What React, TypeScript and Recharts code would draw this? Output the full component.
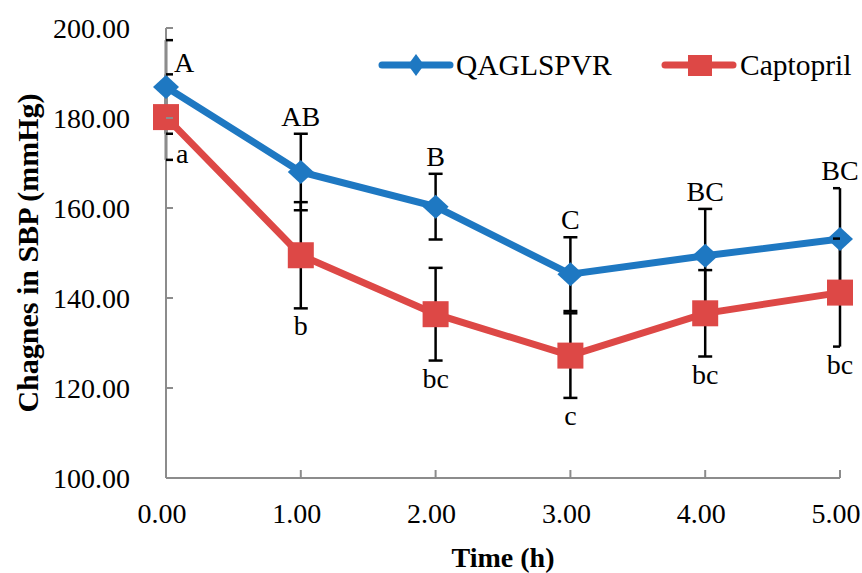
import React from 'react';
import { LineChart, Line, XAxis, YAxis, ErrorBar, LabelList, Customized } from 'recharts';

const times = [0, 1, 2, 3, 4, 5];
const qaglspvr = [186.9, 168.0, 160.3, 145.3, 149.4, 153.1];
const qaglspvrSD = [10.4, 8.5, 7.3, 8.2, 10.4, 11.3];
const captopril = [180.2, 149.5, 136.4, 127.2, 136.6, 141.2];
const captoprilSD = [9.5, 11.8, 10.3, 9.4, 9.6, 12.0];
const qaglspvrLetters = ['A', 'AB', 'B', 'C', 'BC', 'BC'];
const captoprilLetters = ['a', 'b', 'bc', 'c', 'bc', 'bc'];
const yTicks = [100, 120, 140, 160, 180, 200];
const xTicks = [0, 1, 2, 3, 4, 5];

const BLUE = '#1E78C2';
const RED = '#DD4846';
const AXIS = '#8C8C8C';
const FONT = "'Liberation Serif', 'Times New Roman', serif";

const data = times.map((t, i) => ({
  time: t,
  q: qaglspvr[i],
  qErr: qaglspvrSD[i],
  qTop: qaglspvr[i] + qaglspvrSD[i],
  qBottom: qaglspvr[i] - qaglspvrSD[i],
  qLab: qaglspvrLetters[i],
  c: captopril[i],
  cErr: captoprilSD[i],
  cTop: captopril[i] + captoprilSD[i],
  cBottom: captopril[i] - captoprilSD[i],
  cLab: captoprilLetters[i],
}));

const LAST = times.length - 1;

const Diamond = (props: any) => {
  const { cx, cy } = props;
  if (cx == null || cy == null) return null;
  return <path d={`M${cx},${cy - 12} L${cx + 13},${cy} L${cx},${cy + 12} L${cx - 13},${cy} Z`} fill={BLUE} />;
};

const Square = (props: any) => {
  const { cx, cy } = props;
  if (cx == null || cy == null) return null;
  return <rect x={cx - 13} y={cy - 13} width={26} height={26} fill={RED} />;
};

// Error-bar cap: half cap at the first/last category (clipped by the plot edge in the reference)
const Cap = (props: any) => {
  const { cx, cy, index } = props;
  if (cx == null || cy == null) return null;
  const x1 = index === 0 ? cx : cx - 7;
  const x2 = index === LAST ? cx : cx + 7;
  return <line x1={x1} x2={x2} y1={cy} y2={cy} stroke="#000" strokeWidth={2.5} />;
};

const YTick = (props: any) => {
  const { x, y, payload } = props;
  return (
    <g>
      <line x1={x} x2={x + 7} y1={y} y2={y} stroke={AXIS} strokeWidth={2} />
      <text x={x - 36} y={y} textAnchor="end" dominantBaseline="central" fontFamily={FONT} fontSize={28} fill="#000">
        {Number(payload.value).toFixed(2)}
      </text>
    </g>
  );
};

const XTick = (props: any) => {
  const { x, y, payload } = props;
  return (
    <g>
      <line x1={x} x2={x} y1={y} y2={y - 8} stroke={AXIS} strokeWidth={2} />
      <text x={x - 4} y={y + 35} textAnchor="middle" dominantBaseline="central" fontFamily={FONT} fontSize={28} fill="#000">
        {Number(payload.value).toFixed(2)}
      </text>
    </g>
  );
};

const TopLabel = (props: any) => {
  const { x, y, value, index } = props;
  if (index === 0) {
    return (
      <text x={x + 8} y={y + 32} textAnchor="start" fontFamily={FONT} fontSize={28} fill="#000">{value}</text>
    );
  }
  return (
    <text x={x} y={y - 8} textAnchor="middle" fontFamily={FONT} fontSize={28} fill="#000">{value}</text>
  );
};

const BottomLabel = (props: any) => {
  const { x, y, value, index } = props;
  if (index === 0) {
    return (
      <text x={x + 10} y={y + 3} textAnchor="start" fontFamily={FONT} fontSize={28} fill="#000">{value}</text>
    );
  }
  return (
    <text x={x} y={y + 27} textAnchor="middle" fontFamily={FONT} fontSize={28} fill="#000">{value}</text>
  );
};

const LegendBox = () => (
  <g>
    <line x1={382} x2={450} y1={65} y2={65} stroke={BLUE} strokeWidth={7} strokeLinecap="round" />
    <path d="M416,54 L424,65 L416,76 L408,65 Z" fill={BLUE} />
    <text x={456} y={75} fontFamily={FONT} fontSize={29.5} fill="#000">QAGLSPVR</text>
    <line x1={665} x2={733} y1={65} y2={65} stroke={RED} strokeWidth={7} strokeLinecap="round" />
    <rect x={688} y={55} width={24} height={21} fill={RED} />
    <text x={740} y={75} fontFamily={FONT} fontSize={29.5} fill="#000">Captopril</text>
  </g>
);

const noLine = { stroke: 'none', activeDot: false, isAnimationActive: false } as const;

export default function App() {
  return (
    <div style={{ position: 'absolute', left: 0, top: 0, width: 862, height: 573, background: '#fff' }}>
      <LineChart width={862} height={573} data={data} margin={{ top: 28, right: 22, left: 0, bottom: 0 }}>
        <XAxis
          dataKey="time"
          type="number"
          domain={[0, 5]}
          ticks={xTicks}
          height={95}
          tickSize={0}
          tickMargin={0}
          tick={<XTick />}
          axisLine={{ stroke: AXIS, strokeWidth: 2 }}
          tickLine={false}
          label={{
            content: (p: any) => {
              const vb = p.viewBox;
              return (
                <text x={vb.x + vb.width / 2} y={vb.y + 89} textAnchor="middle" fontFamily={FONT} fontSize={28} fontWeight="bold" fill="#000">
                  Time (h)
                </text>
              );
            },
          }}
        />
        <YAxis
          type="number"
          domain={[100, 200]}
          ticks={yTicks}
          width={166}
          tickSize={0}
          tickMargin={0}
          tick={<YTick />}
          axisLine={{ stroke: AXIS, strokeWidth: 2 }}
          tickLine={false}
          label={{
            content: (p: any) => {
              const vb = p.viewBox;
              const cx = 27;
              const cy = vb.y + vb.height / 2;
              return (
                <text x={cx} y={cy} transform={`rotate(-90, ${cx}, ${cy})`} textAnchor="middle" dominantBaseline="central" fontFamily={FONT} fontSize={30} fontWeight="bold" fill="#000">
                  Chagnes in SBP (mmHg)
                </text>
              );
            },
          }}
        />
        <Line dataKey="q" stroke={BLUE} strokeWidth={7} dot={false} activeDot={false} isAnimationActive={false}>
          <ErrorBar dataKey="qErr" width={0} stroke="#000" strokeWidth={2.5} direction="y" />
        </Line>
        <Line dataKey="qTop" {...noLine} dot={<Cap />} />
        <Line dataKey="qBottom" {...noLine} dot={<Cap />} />
        <Line dataKey="q" {...noLine} dot={<Diamond />} />
        <Line dataKey="c" stroke={RED} strokeWidth={7} dot={false} activeDot={false} isAnimationActive={false}>
          <ErrorBar dataKey="cErr" width={0} stroke="#000" strokeWidth={2.5} direction="y" />
        </Line>
        <Line dataKey="cTop" {...noLine} dot={<Cap />} />
        <Line dataKey="cBottom" {...noLine} dot={<Cap />} />
        <Line dataKey="c" {...noLine} dot={<Square />} />
        <Line dataKey="qTop" {...noLine} dot={false}>
          <LabelList dataKey="qLab" content={<TopLabel />} />
        </Line>
        <Line dataKey="cBottom" {...noLine} dot={false}>
          <LabelList dataKey="cLab" content={<BottomLabel />} />
        </Line>
        <Customized component={LegendBox} />
      </LineChart>
    </div>
  );
}
